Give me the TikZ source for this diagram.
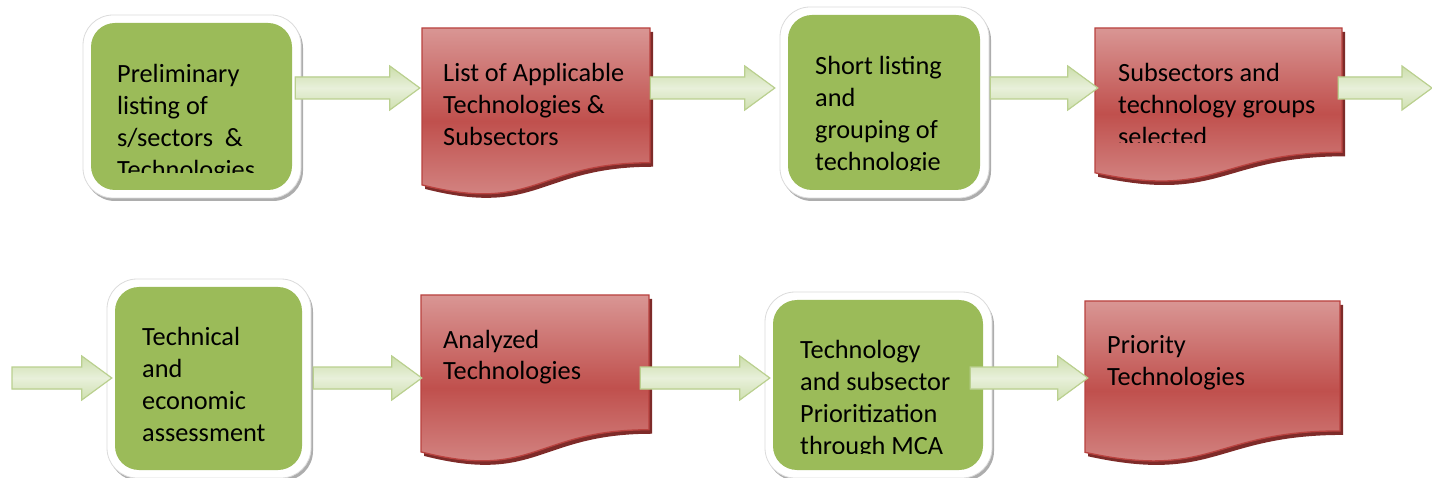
\documentclass[tikz,border=0pt]{standalone}
\usepackage{fontspec}
\setmainfont{Carlito}
\usetikzlibrary{calc}
\definecolor{gfill}{HTML}{9BBB59}
\definecolor{rtop}{HTML}{D99694}
\definecolor{rmid}{HTML}{C0504D}
\definecolor{redge}{HTML}{B9423F}
\definecolor{rshadow}{HTML}{7E2B29}
\definecolor{atop}{HTML}{CCDEAB}
\definecolor{amid}{HTML}{E8F0DA}
\definecolor{abot}{HTML}{CFE0B0}
\definecolor{aedge}{HTML}{BAD08F}
\definecolor{ashadow}{HTML}{A0A896}
\tikzset{
  gboxstyle/.style={fill=gfill, rounded corners=24pt, inner sep=0pt, draw=none},
  framestyle/.style={fill=white, draw=black!14, line width=0.8pt, rounded corners=30pt},
  frameshadow/.style={fill=black!32, rounded corners=30pt},
  dnode/.style={inner sep=0pt, draw=none},
  dshape/.style={top color=rtop, bottom color=rtop!92!rmid, middle color=rmid, draw=redge, line width=1.3pt},
  dshadow/.style={fill=rshadow},
  arrowbody/.style={top color=atop, bottom color=abot, middle color=amid, draw=aedge, line width=1.2pt, line join=miter},
  arrowshadow/.style={fill=ashadow},
  txt/.style={anchor=base west, inner sep=0pt, font=\fontsize{26.3}{32}\selectfont}
}
% green rounded box: name, x1, y1, x2, y2
\newcommand\gbox[5]{%
  \path[frameshadow] (#2-8+2,#3-8+3) rectangle (#4+9+2,#5+8+3);
  \path[framestyle] (#2-8,#3-8) rectangle (#4+9,#5+8);
  \node[gboxstyle, minimum width={#4-#2}, minimum height={#5-#3}] (#1) at ({(#2+#4)/2},{(#3+#5)/2}) {};
}
% document shape: name, x1, y1, x2, h
\newcommand\dbox[5]{%
  \node[dnode, minimum width={#4-#2}, minimum height={#5}] (#1) at ({(#2+#4)/2},{#3+#5/2}) {};
  \path[dshadow, shift={(3,4)}] (#2,#3) -- (#4,#3) -- (#4,{#3+0.802*#5})
     .. controls ({(#2+#4)/2},{#3+0.802*#5}) and ({(#2+#4)/2},{#3+1.107*#5}) .. (#2,{#3+0.934*#5}) -- cycle;
  \path[dshape] (#2,#3) -- (#4,#3) -- (#4,{#3+0.802*#5})
     .. controls ({(#2+#4)/2},{#3+0.802*#5}) and ({(#2+#4)/2},{#3+1.107*#5}) .. (#2,{#3+0.934*#5}) -- cycle;
}
% block arrow from #1 (start of shaft) to #2 (tip)
\newcommand\barrow[2]{%
  \path[arrowshadow, xshift=2pt, yshift=-4pt] let \p1=(#1), \p2=(#2) in
    (\x1,\y1+11pt) -- (\x2-30pt,\y1+11pt) -- (\x2-30pt,\y1+22pt) -- (\x2,\y1)
    -- (\x2-30pt,\y1-22pt) -- (\x2-30pt,\y1-11pt) -- (\x1,\y1-11pt) -- cycle;
  \path[arrowbody] let \p1=(#1), \p2=(#2) in
    (\x1,\y1+11pt) -- (\x2-30pt,\y1+11pt) -- (\x2-30pt,\y1+22pt) -- (\x2,\y1)
    -- (\x2-30pt,\y1-22pt) -- (\x2-30pt,\y1-11pt) -- (\x1,\y1-11pt) -- cycle;
}
\begin{document}
\begin{tikzpicture}[x=1pt,y=-1pt]
\useasboundingbox (0,0) rectangle (1432,478);
\coordinate (r1) at (0,88);
\coordinate (r2) at (0,378);
\coordinate (e4) at (1432,88);
\coordinate (s5) at (12,378);

% ---- row 1 ----
\gbox{g1}{91}{23}{292}{190}
\begin{scope}
  \clip (91,23) rectangle (292,173);
  \node[txt] (t1) at (117,83) {\parbox[t]{200pt}{Preliminary\\listing of\\s/sectors\ \ \&\\Technologies}};
\end{scope}

\dbox{d1}{422}{28}{650}{168}
\node[txt] (t2) at (443,82) {\parbox[t]{220pt}{List of Applicable\\Technologies \&\\Subsectors}};

\gbox{g2}{788}{15}{980}{190}
\begin{scope}
  \clip (788,15) rectangle (980,171);
  \node[txt] (t3) at (815,75) {\parbox[t]{200pt}{Short listing\\and\\grouping of\\technologie}};
\end{scope}

\dbox{d2}{1095}{28}{1342}{155}
\begin{scope}
  \clip (1095,28) rectangle (1342,143);
  \node[txt] (t4) at (1118,82) {\parbox[t]{240pt}{Subsectors and\\technology groups\\selected}};
\end{scope}

% ---- row 2 ----
\gbox{g3}{115}{287}{302}{470}
\node[txt] (t5) at (142,345) {\parbox[t]{200pt}{Technical\\and\\economic\\assessment}};

\dbox{d3}{421}{295}{649}{168}
\node[txt] (t6) at (443,348) {\parbox[t]{220pt}{Analyzed\\Technologies}};

\gbox{g4}{773}{300}{983}{470}
\begin{scope}
  \clip (773,300) rectangle (983,453);
  \node[txt] (t7) at (800,358) {\parbox[t]{220pt}{Technology\\and subsector\\Prioritization\\through MCA}};
\end{scope}

\dbox{d4}{1085}{301}{1340}{162}
\node[txt] (t8) at (1107,353) {\parbox[t]{220pt}{Priority\\Technologies}};

% ---- arrows ----
\barrow{$(g1.east|-r1)+(3,0)$}{$(d1.west|-r1)+(-2,0)$}
\barrow{$(d1.east|-r1)$}{$(g2.west|-r1)+(-13,0)$}
\barrow{$(g2.east|-r1)+(10,0)$}{$(d2.west|-r1)+(3,0)$}
\barrow{$(d2.east|-r1)+(-4,0)$}{e4}
\barrow{s5}{$(g3.west|-r2)+(-3,0)$}
\barrow{$(g3.east|-r2)+(11,0)$}{$(d3.west|-r2)+(1,0)$}
\barrow{$(d3.east|-r2)+(-9,0)$}{$(g4.west|-r2)+(-3,0)$}
\barrow{$(g4.east|-r2)+(-13,0)$}{$(d4.west|-r2)+(3,0)$}
\end{tikzpicture}
\end{document}
